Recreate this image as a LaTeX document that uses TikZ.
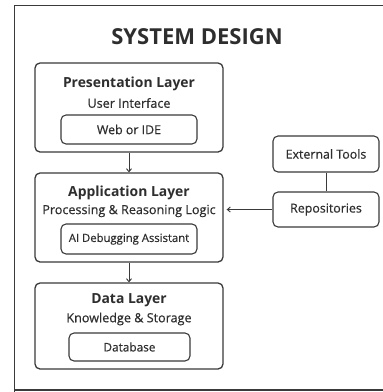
\documentclass[tikz,border=0pt]{standalone}
\usepackage{fontspec}
\setmainfont{Open Sans}
\newfontfamily\subfont[FakeBold=0.5]{Open Sans}
\usetikzlibrary{arrows.meta}
\definecolor{ink}{HTML}{3A3A3A}
\definecolor{txt}{HTML}{2E2E2E}
\begin{document}
\begin{tikzpicture}[x=1pt,y=-1pt,
  outerbox/.style={draw=ink,line width=1.3pt,rounded corners=5pt,minimum width=188pt,inner sep=0pt},
  innerbox/.style={draw=ink,line width=1.1pt,rounded corners=5pt,inner sep=0pt,font=\subfont\fontsize{12.4}{13}\selectfont,text=txt},
  sidebox/.style={draw=ink,line width=1.1pt,rounded corners=5pt,minimum width=106pt,inner sep=0pt,font=\subfont\fontsize{12.4}{13}\selectfont,text=txt},
  layertitle/.style={font=\bfseries\fontsize{13.9}{14}\selectfont,text=txt,inner sep=0pt},
  layersub/.style={font=\subfont\fontsize{12.6}{13}\selectfont,text=txt,inner sep=0pt},
  conn/.style={draw=ink,line width=0.9pt},
  arr/.style={conn,-{Straight Barb[length=3pt,width=5pt]}}
]
\useasboundingbox (0,0) rectangle (383,392);
\fill[white] (0,0) rectangle (383,392);
\draw[ink,line width=1.8pt] (14.5,395) -- (14.5,5.5) -- (395,5.5);
\draw[ink,line width=1.8pt] (14.5,390) -- (395,390);

\node[font=\bfseries\fontsize{22}{24}\selectfont,text=txt,inner sep=0pt] (title) at (197,37) {SYSTEM DESIGN};

% Presentation
\node[outerbox,minimum height=89pt] (pres) at (129,107.5) {};
\node[layertitle] (prest) at (129,84) {Presentation Layer};
\node[layersub] (pressub) at (129,103) {User Interface};
\node[innerbox,minimum width=136pt,minimum height=29pt] (web) at (129,129.5) {Web or IDE};

% Application
\node[outerbox,minimum height=89pt] (app) at (129,217.5) {};
\node[layertitle] (appt) at (129,193) {Application Layer};
\node[layersub] (appsub) at (129,211) {Processing \& Reasoning Logic};
\node[innerbox,minimum width=136pt,minimum height=30pt,font=\subfont\fontsize{11.3}{12}\selectfont] (ai) at (129,239) {AI Debugging Assistant};

% Data
\node[outerbox,minimum height=86pt] (data) at (129,326) {};
\node[layertitle] (datat) at (129,300) {Data Layer};
\node[layersub] (datasub) at (129,319) {Knowledge \& Storage};
\node[innerbox,minimum width=121pt,minimum height=28pt,font=\subfont\fontsize{11.8}{12}\selectfont] (db) at (129.5,347) {Database};

% Side
\node[sidebox,minimum height=36pt] (ext) at (326,154) {External Tools};
\node[sidebox,minimum height=35pt] (repo) at (326,209.5) {Repositories};

\draw[arr] (pres.south) -- (app.north);
\draw[arr] (app.south) -- (data.north);
\draw[conn] (ext.south) -- (repo.north);
\draw[arr] (repo.west) -- ([xshift=3pt]app.east |- repo.west);
\end{tikzpicture}
\end{document}
